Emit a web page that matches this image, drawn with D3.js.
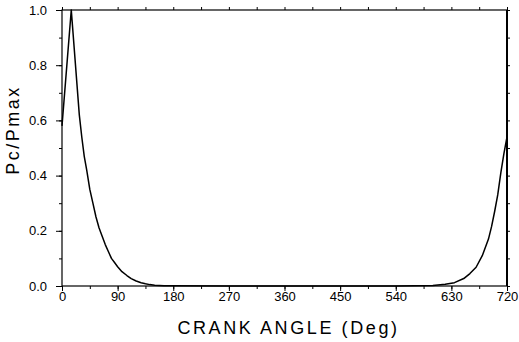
<!DOCTYPE html>
<html>
<head>
<meta charset="utf-8">
<script src="https://cdn.jsdelivr.net/npm/d3@7"></script>
<style>
  body { margin: 0; background: #fff; }
  text { font-family: "Liberation Sans", Arial, sans-serif; fill: #000; }
</style>
</head>
<body>
<div id="chart"></div>
<script>
// crank angle (deg) and normalised cylinder pressure
var angles = [0, 15, 28, 32, 36, 40, 45, 50, 55, 60, 65, 70, 75, 80, 85, 90, 97, 105, 112, 120,
              128, 135, 142, 150, 165, 180, 270, 360, 450, 540,
              570, 600, 620, 635, 650, 660, 670, 680, 690, 695, 700, 705, 710, 715, 720];
var pressure = [0.58, 1.0, 0.62, 0.54, 0.47, 0.42, 0.35, 0.30, 0.25, 0.21, 0.18, 0.15, 0.125, 0.10, 0.085, 0.07, 0.052, 0.038, 0.027, 0.018,
                0.012, 0.008, 0.005, 0.003, 0.0012, 0.0005, 0, 0, 0, 0,
                0.0005, 0.002, 0.006, 0.012, 0.027, 0.045, 0.068, 0.11, 0.17, 0.215, 0.27, 0.33, 0.41, 0.48, 0.54];
var xTicks = [0, 90, 180, 270, 360, 450, 540, 630, 720];
var yTicks = [0, 0.2, 0.4, 0.6, 0.8, 1.0];

var width = 519, height = 342;
var margin = {top: 10, right: 12, bottom: 56, left: 62};
var chartW = width - margin.left - margin.right,
    chartH = height - margin.top - margin.bottom;

var data = angles.map(function(a, i) { return {a: a, p: pressure[i]}; });

var x = d3.scaleLinear().domain([0, 720]).range([0, chartW]);
var y = d3.scaleLinear().domain([0, 1]).range([chartH, 0]);

var svg = d3.select('#chart').append('svg')
    .attr('width', width)
    .attr('height', height);

var g = svg.append('g')
    .attr('transform', 'translate(' + margin.left + ',' + margin.top + ')');

function styleAxis(sel) {
  sel.select('.domain').remove();
  sel.selectAll('line').attr('stroke', '#000');
  sel.selectAll('text').style('font-size', '13px');
}

// minor ticks
g.append('g').attr('transform', 'translate(0,' + chartH + ')')
  .call(d3.axisBottom(x).tickValues(d3.range(0, 721, 45)).tickSize(3).tickFormat(''))
  .call(styleAxis);
g.append('g')
  .call(d3.axisTop(x).tickValues(d3.range(0, 721, 45)).tickSize(3).tickFormat(''))
  .call(styleAxis);
g.append('g')
  .call(d3.axisLeft(y).tickValues(d3.range(0, 1.01, 0.1)).tickSize(3).tickFormat(''))
  .call(styleAxis);
g.append('g').attr('transform', 'translate(' + chartW + ',0)')
  .call(d3.axisRight(y).tickValues(d3.range(0, 1.01, 0.1)).tickSize(3).tickFormat(''))
  .call(styleAxis);

// major ticks + labels
g.append('g').attr('transform', 'translate(0,' + chartH + ')')
  .call(d3.axisBottom(x).tickValues(xTicks).tickSize(5).tickPadding(1))
  .call(styleAxis);
g.append('g')
  .call(d3.axisLeft(y).tickValues(yTicks).tickSize(6).tickPadding(9).tickFormat(d3.format('.1f')))
  .call(styleAxis);

// frame
g.append('rect')
  .attr('width', chartW).attr('height', chartH)
  .attr('fill', 'none').attr('stroke', '#000').attr('stroke-width', 1.2);
g.append('line')
  .attr('x1', chartW).attr('x2', chartW).attr('y1', 0).attr('y2', chartH)
  .attr('stroke', '#000').attr('stroke-width', 2);

var line = d3.line()
    .x(function(d) { return x(d.a); })
    .y(function(d) { return y(d.p); });

g.append('path')
  .datum(data)
  .attr('fill', 'none')
  .attr('stroke', '#000')
  .attr('stroke-width', 1.5)
  .attr('stroke-linejoin', 'round')
  .attr('d', line);

// axis titles
svg.append('text')
  .attr('x', margin.left + chartW / 2 + 4)
  .attr('y', 334)
  .attr('text-anchor', 'middle')
  .style('font-size', '18px')
  .style('letter-spacing', '2.6px')
  .text('CRANK ANGLE (Deg)');

svg.append('text')
  .attr('transform', 'translate(19,130) rotate(-90)')
  .attr('text-anchor', 'middle')
  .style('font-size', '18px')
  .style('letter-spacing', '2.5px')
  .text('Pc/Pmax');
</script>
</body>
</html>
